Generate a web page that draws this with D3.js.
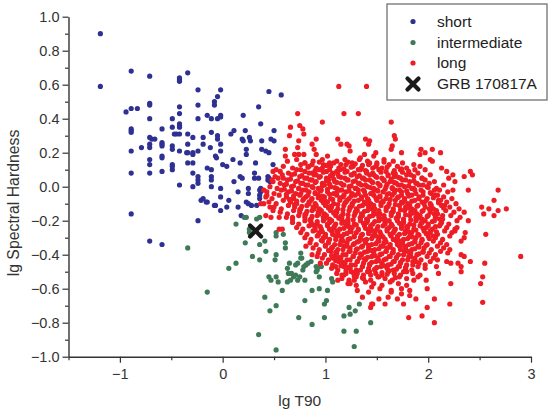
<!DOCTYPE html>
<html><head><meta charset="utf-8">
<script src="https://cdn.jsdelivr.net/npm/d3@7"></script>
<style>
html,body{margin:0;padding:0;background:#fff;}
svg{display:block;font-family:"Liberation Sans",Arial,sans-serif;}
</style></head>
<body><svg id="chart" width="549" height="415"></svg>
<script>
const xTicks = [-1, 0, 1, 2, 3];
const xMinorTicks = [-1.5, -0.5, 0.5, 1.5, 2.5];
const yTicks = [-1.0, -0.8, -0.6, -0.4, -0.2, 0.0, 0.2, 0.4, 0.6, 0.8, 1.0];
const yMinorTicks = [-0.9, -0.7, -0.5, -0.3, -0.1, 0.1, 0.3, 0.5, 0.7, 0.9];
const legendLabels = ["short", "intermediate", "long", "GRB 170817A"];
const grb = [[0.32, -0.26]];

const shortPts = [[-1.19,0.90],[-1.19,0.59],[-0.89,0.68],[-0.71,0.65],[-0.42,0.64],[-0.42,0.63],[-0.42,0.62],[-0.34,0.67],[-0.24,0.57],[-0.94,0.44],[-0.89,0.46],[-0.83,0.46],[-0.71,0.49],[-0.71,0.48],[-0.71,0.40],[-0.42,0.47],[-0.42,0.43],[-0.49,0.40],[-0.24,0.48],[-0.24,0.40],[-0.89,0.34],[-0.89,0.33],[-0.89,0.32],[-0.59,0.34],[-0.49,0.35],[-0.42,0.37],[-0.42,0.36],[-0.42,0.35],[-0.47,0.31],[-0.45,0.31],[-0.42,0.31],[-0.34,0.31],[-0.29,0.29],[-0.71,0.29],[-0.69,0.28],[-0.66,0.28],[-0.89,0.21],[-0.79,0.23],[-0.71,0.25],[-0.71,0.23],[-0.59,0.26],[-0.59,0.25],[-0.59,0.24],[-0.49,0.24],[-0.49,0.22],[-0.42,0.21],[-0.34,0.25],[-0.34,0.20],[-0.29,0.20],[-0.29,0.19],[-0.24,0.21],[-0.71,0.16],[-0.59,0.18],[-0.59,0.17],[-0.71,0.13],[-0.49,0.13],[-0.49,0.12],[-0.49,0.10],[-0.34,0.14],[-0.29,0.14],[-0.59,0.09],[-0.89,0.08],[-0.71,0.08],[-0.29,0.08],[-0.24,0.06],[-0.24,0.04],[-0.24,0.02],[-0.42,0.01],[-0.29,0.00],[-0.89,-0.16],[-0.71,-0.32],[-0.59,-0.34],[-0.24,-0.20],
[-0.02,0.57],[-0.05,0.53],[-0.08,0.50],[-0.08,0.48],[0.45,0.56],[0.57,0.54],[0.35,0.47],[0.20,0.42],[-0.15,0.42],[-0.11,0.40],[-0.05,0.40],[-0.02,0.42],[-0.02,0.41],[0.37,0.37],[-0.11,0.32],[0.08,0.31],[0.11,0.33],[0.22,0.33],[0.50,0.33],[-0.19,0.29],[-0.05,0.30],[-0.05,0.28],[0.19,0.28],[0.20,0.27],[0.26,0.29],[0.27,0.27],[0.38,0.27],[0.47,0.28],[0.50,0.27],[-0.19,0.25],[-0.02,0.25],[-0.35,0.20],[-0.12,0.23],[-0.02,0.21],[-0.07,0.18],[-0.06,0.17],[0.10,0.16],[0.23,0.22],[0.23,0.19],[0.38,0.22],[0.42,0.21],[0.45,0.20],[0.32,0.14],[0.17,0.14],[0.00,0.13],[0.04,0.12],[-0.15,0.11],[-0.11,0.10],[-0.11,0.06],[-0.11,0.04],[0.11,0.03],[0.17,0.06],[0.19,0.05],[0.31,0.08],[0.31,0.05],[0.35,0.05],[-0.11,0.00],[-0.02,-0.01],[0.15,-0.03],[0.25,-0.01],[0.25,-0.04],[0.36,-0.02],[0.36,-0.05],[0.36,-0.07],[0.45,0.05],[0.46,0.03],[-0.19,-0.07],[-0.15,-0.09],[-0.02,-0.06],[-0.07,-0.11],[-0.02,-0.14],[0.04,-0.12],[0.06,-0.08],[0.15,-0.12],[0.23,-0.09],[0.25,-0.10],[0.28,-0.11],[0.33,-0.11],[0.49,0.13],[0.44,0.06],[0.44,0.04],[0.37,-0.01],[0.37,-0.03],[0.18,-0.17],[-0.21,-0.08],[-0.16,-0.09],[-0.08,-0.11]];

const intermediatePts = [[0.21,-0.18],[0.23,-0.18],[0.33,-0.19],[0.36,-0.18],[0.13,-0.22],[0.26,-0.25],[0.26,-0.27],[0.22,-0.33],[0.36,-0.34],[0.41,-0.32],[0.42,-0.38],[0.29,-0.41],[0.36,-0.43],[-0.34,-0.36],[0.06,-0.48],[0.13,-0.45],[0.52,-0.27],[0.52,-0.29],[0.59,-0.28],[0.61,-0.33],[0.61,-0.36],[0.52,-0.40],[0.51,-0.43],[-0.15,-0.62],[0.45,-0.53],[0.52,-0.53],[0.41,-0.65],[0.52,-0.70],[0.46,-0.73],[0.35,-0.87],[0.52,-0.96],[0.58,-0.61],[0.63,-0.48],[0.65,-0.45],[0.71,-0.46],[0.73,-0.45],[0.63,-0.56],[0.67,-0.51],[0.69,-0.53],[0.71,-0.52],[0.73,-0.55],[0.80,-0.55],[0.76,-0.39],[0.76,-0.42],[0.78,-0.49],[0.79,-0.47],[0.81,-0.46],[0.83,-0.45],[0.86,-0.44],[0.91,-0.47],[0.92,-0.49],[0.94,-0.47],[0.96,-0.47],[0.91,-0.50],[0.94,-0.53],[0.87,-0.61],[0.94,-0.60],[0.80,-0.67],[0.74,-0.77],[0.87,-0.81],[0.99,-0.69],[1.01,-0.67],[0.99,-0.77],[1.06,-0.54],[1.07,-0.56],[1.02,-0.61],[1.23,-0.71],[1.24,-0.75],[1.29,-0.73],[1.33,-0.69],[1.18,-0.76],[1.18,-0.85],[1.30,-0.85],[1.28,-0.94],[1.44,-0.80],[0.77,-0.42],[0.75,-0.53],[0.66,-0.55],[0.64,-0.51],[0.47,-0.55],[0.54,-0.56]];

const longDense = [
[0.63,0.15],[0.72,0.16],[0.80,0.14],[0.88,0.15],[0.97,0.16],[1.04,0.14],[1.11,0.15],[1.19,0.16],[1.26,0.14],[1.33,0.16],[1.41,0.15],[1.50,0.14],[1.57,0.16],[1.66,0.15],[1.75,0.14],
[0.59,0.12],[0.68,0.11],[0.76,0.13],[0.84,0.12],[0.91,0.11],[0.98,0.13],[1.05,0.12],[1.13,0.11],[1.20,0.13],[1.27,0.12],[1.35,0.11],[1.42,0.13],[1.49,0.12],[1.55,0.11],[1.62,0.13],[1.70,0.12],[1.79,0.11],[1.86,0.13],
[0.56,0.09],[0.64,0.08],[0.72,0.10],[0.80,0.09],[0.87,0.08],[0.94,0.10],[1.01,0.09],[1.07,0.08],[1.14,0.10],[1.21,0.09],[1.28,0.08],[1.34,0.10],[1.40,0.09],[1.46,0.08],[1.52,0.10],[1.59,0.09],[1.66,0.08],[1.73,0.10],[1.81,0.09],[1.90,0.08],[1.97,0.10],
[0.51,0.06],[0.59,0.05],[0.67,0.07],[0.75,0.06],[0.82,0.05],[0.89,0.07],[0.95,0.06],[1.01,0.05],[1.07,0.07],[1.13,0.06],[1.19,0.05],[1.25,0.07],[1.31,0.06],[1.37,0.05],[1.43,0.07],[1.49,0.06],[1.55,0.05],[1.61,0.07],[1.67,0.06],[1.73,0.05],[1.79,0.07],[1.86,0.06],[1.94,0.05],[2.02,0.07],
[0.49,0.03],[0.56,0.02],[0.63,0.04],[0.71,0.03],[0.78,0.02],[0.85,0.04],[0.91,0.03],[0.97,0.02],[1.03,0.04],[1.09,0.03],[1.15,0.02],[1.21,0.04],[1.27,0.03],[1.33,0.02],[1.39,0.04],[1.45,0.03],[1.51,0.02],[1.57,0.04],[1.63,0.03],[1.69,0.02],[1.75,0.04],[1.82,0.03],[1.89,0.02],[1.97,0.04],[2.06,0.03],
[0.46,0.00],[0.53,-0.01],[0.60,0.01],[0.67,0.00],[0.74,-0.01],[0.81,0.01],[0.87,0.00],[0.93,-0.01],[0.99,0.01],[1.05,0.00],[1.11,-0.01],[1.17,0.01],[1.23,0.00],[1.29,-0.01],[1.35,0.01],[1.41,0.00],[1.47,-0.01],[1.53,0.01],[1.59,0.00],[1.65,-0.01],[1.71,0.01],[1.77,0.00],[1.84,-0.01],[1.91,0.01],[1.99,0.00],[2.08,-0.01],[2.15,0.01],
[0.43,-0.03],[0.50,-0.04],[0.57,-0.02],[0.64,-0.03],[0.71,-0.04],[0.78,-0.02],[0.84,-0.03],[0.90,-0.04],[0.96,-0.02],[1.02,-0.03],[1.08,-0.04],[1.14,-0.02],[1.20,-0.03],[1.26,-0.04],[1.32,-0.02],[1.38,-0.03],[1.44,-0.04],[1.50,-0.02],[1.56,-0.03],[1.62,-0.04],[1.68,-0.02],[1.74,-0.03],[1.80,-0.04],[1.87,-0.02],[1.95,-0.03],[2.03,-0.04],[2.11,-0.02],[2.19,-0.03],
[0.42,-0.06],[0.48,-0.07],[0.55,-0.05],[0.62,-0.06],[0.69,-0.07],[0.75,-0.05],[0.81,-0.06],[0.87,-0.07],[0.93,-0.05],[0.99,-0.06],[1.05,-0.07],[1.11,-0.05],[1.17,-0.06],[1.23,-0.07],[1.29,-0.05],[1.35,-0.06],[1.41,-0.07],[1.47,-0.05],[1.53,-0.06],[1.59,-0.07],[1.65,-0.05],[1.71,-0.06],[1.77,-0.07],[1.84,-0.05],[1.91,-0.06],[1.99,-0.07],[2.07,-0.05],[2.15,-0.06],[2.23,-0.07],
[0.45,-0.09],[0.52,-0.10],[0.59,-0.08],[0.66,-0.09],[0.72,-0.10],[0.78,-0.08],[0.84,-0.09],[0.90,-0.10],[0.96,-0.08],[1.02,-0.09],[1.08,-0.10],[1.14,-0.08],[1.20,-0.09],[1.26,-0.10],[1.32,-0.08],[1.38,-0.09],[1.44,-0.10],[1.50,-0.08],[1.56,-0.09],[1.62,-0.10],[1.68,-0.08],[1.74,-0.09],[1.80,-0.10],[1.87,-0.08],[1.94,-0.09],[2.02,-0.10],[2.10,-0.08],[2.18,-0.09],[2.27,-0.10],
[0.50,-0.12],[0.57,-0.13],[0.64,-0.11],[0.70,-0.12],[0.76,-0.13],[0.82,-0.11],[0.88,-0.12],[0.94,-0.13],[1.00,-0.11],[1.06,-0.12],[1.12,-0.13],[1.18,-0.11],[1.24,-0.12],[1.30,-0.13],[1.36,-0.11],[1.42,-0.12],[1.48,-0.13],[1.54,-0.11],[1.60,-0.12],[1.66,-0.13],[1.72,-0.11],[1.78,-0.12],[1.84,-0.13],[1.90,-0.11],[1.97,-0.12],[2.05,-0.13],[2.13,-0.11],[2.21,-0.12],[2.30,-0.13],
[0.56,-0.15],[0.63,-0.16],[0.69,-0.14],[0.75,-0.15],[0.81,-0.16],[0.87,-0.14],[0.93,-0.15],[0.99,-0.16],[1.05,-0.14],[1.11,-0.15],[1.17,-0.16],[1.23,-0.14],[1.29,-0.15],[1.35,-0.16],[1.41,-0.14],[1.47,-0.15],[1.53,-0.16],[1.59,-0.14],[1.65,-0.15],[1.71,-0.16],[1.77,-0.14],[1.83,-0.15],[1.89,-0.16],[1.95,-0.14],[2.02,-0.15],[2.09,-0.16],[2.17,-0.14],[2.25,-0.15],
[0.62,-0.18],[0.68,-0.19],[0.74,-0.17],[0.80,-0.18],[0.86,-0.19],[0.92,-0.17],[0.98,-0.18],[1.04,-0.19],[1.10,-0.17],[1.16,-0.18],[1.22,-0.19],[1.28,-0.17],[1.34,-0.18],[1.40,-0.19],[1.46,-0.17],[1.52,-0.18],[1.58,-0.19],[1.64,-0.17],[1.70,-0.18],[1.76,-0.19],[1.82,-0.17],[1.88,-0.18],[1.94,-0.19],[2.00,-0.17],[2.07,-0.18],[2.14,-0.19],[2.22,-0.17],[2.31,-0.18],
[0.68,-0.21],[0.74,-0.22],[0.80,-0.20],[0.86,-0.21],[0.92,-0.22],[0.98,-0.20],[1.04,-0.21],[1.10,-0.22],[1.16,-0.20],[1.22,-0.21],[1.28,-0.22],[1.34,-0.20],[1.40,-0.21],[1.46,-0.22],[1.52,-0.20],[1.58,-0.21],[1.64,-0.22],[1.70,-0.20],[1.76,-0.21],[1.82,-0.22],[1.88,-0.20],[1.94,-0.21],[2.00,-0.22],[2.06,-0.20],[2.13,-0.21],[2.20,-0.22],[2.28,-0.20],
[0.72,-0.24],[0.78,-0.25],[0.84,-0.23],[0.90,-0.24],[0.96,-0.25],[1.02,-0.23],[1.08,-0.24],[1.14,-0.25],[1.20,-0.23],[1.26,-0.24],[1.32,-0.25],[1.38,-0.23],[1.44,-0.24],[1.50,-0.25],[1.56,-0.23],[1.62,-0.24],[1.68,-0.25],[1.74,-0.23],[1.80,-0.24],[1.86,-0.25],[1.92,-0.23],[1.98,-0.24],[2.04,-0.25],[2.11,-0.23],[2.18,-0.24],[2.26,-0.25],
[0.76,-0.27],[0.82,-0.28],[0.88,-0.26],[0.94,-0.27],[1.00,-0.28],[1.06,-0.26],[1.12,-0.27],[1.18,-0.28],[1.24,-0.26],[1.30,-0.27],[1.36,-0.28],[1.42,-0.26],[1.48,-0.27],[1.54,-0.28],[1.60,-0.26],[1.66,-0.27],[1.72,-0.28],[1.78,-0.26],[1.84,-0.27],[1.90,-0.28],[1.96,-0.26],[2.02,-0.27],[2.09,-0.28],[2.16,-0.26],[2.23,-0.27],
[0.80,-0.30],[0.86,-0.31],[0.92,-0.29],[0.98,-0.30],[1.04,-0.31],[1.10,-0.29],[1.16,-0.30],[1.22,-0.31],[1.28,-0.29],[1.34,-0.30],[1.40,-0.31],[1.46,-0.29],[1.52,-0.30],[1.58,-0.31],[1.64,-0.29],[1.70,-0.30],[1.76,-0.31],[1.82,-0.29],[1.88,-0.30],[1.94,-0.31],[2.00,-0.29],[2.07,-0.30],[2.14,-0.31],[2.21,-0.29],
[0.85,-0.33],[0.91,-0.34],[0.97,-0.32],[1.03,-0.33],[1.09,-0.34],[1.15,-0.32],[1.21,-0.33],[1.27,-0.34],[1.33,-0.32],[1.39,-0.33],[1.45,-0.34],[1.51,-0.32],[1.57,-0.33],[1.63,-0.34],[1.69,-0.32],[1.75,-0.33],[1.81,-0.34],[1.87,-0.32],[1.93,-0.33],[1.99,-0.34],[2.05,-0.32],[2.12,-0.33],[2.18,-0.34],
[0.88,-0.36],[0.94,-0.37],[1.00,-0.35],[1.06,-0.36],[1.12,-0.37],[1.18,-0.35],[1.24,-0.36],[1.30,-0.37],[1.36,-0.35],[1.42,-0.36],[1.48,-0.37],[1.54,-0.35],[1.60,-0.36],[1.66,-0.37],[1.72,-0.35],[1.78,-0.36],[1.84,-0.37],[1.90,-0.35],[1.96,-0.36],[2.03,-0.37],[2.09,-0.35],[2.15,-0.36],
[0.93,-0.39],[0.99,-0.40],[1.05,-0.38],[1.11,-0.39],[1.17,-0.40],[1.23,-0.38],[1.29,-0.39],[1.35,-0.40],[1.41,-0.38],[1.47,-0.39],[1.53,-0.40],[1.59,-0.38],[1.65,-0.39],[1.71,-0.40],[1.77,-0.38],[1.83,-0.39],[1.89,-0.40],[1.95,-0.38],[2.01,-0.39],[2.07,-0.40],[2.12,-0.38],
[0.97,-0.42],[1.03,-0.43],[1.09,-0.41],[1.15,-0.42],[1.21,-0.43],[1.27,-0.41],[1.33,-0.42],[1.39,-0.43],[1.45,-0.41],[1.51,-0.42],[1.57,-0.43],[1.63,-0.41],[1.69,-0.42],[1.75,-0.43],[1.81,-0.41],[1.87,-0.42],[1.93,-0.43],[1.99,-0.41],[2.05,-0.42],[2.09,-0.43],
[1.01,-0.45],[1.07,-0.46],[1.13,-0.44],[1.19,-0.45],[1.25,-0.46],[1.31,-0.44],[1.37,-0.45],[1.43,-0.46],[1.49,-0.44],[1.55,-0.45],[1.61,-0.46],[1.67,-0.44],[1.73,-0.45],[1.79,-0.46],[1.85,-0.44],[1.91,-0.45],[1.97,-0.46],[2.02,-0.44],
[1.06,-0.48],[1.12,-0.49],[1.18,-0.47],[1.24,-0.48],[1.30,-0.49],[1.36,-0.47],[1.42,-0.48],[1.48,-0.49],[1.54,-0.47],[1.60,-0.48],[1.66,-0.49],[1.72,-0.47],[1.78,-0.48],[1.84,-0.49],[1.90,-0.47],[1.97,-0.48],
[1.11,-0.51],[1.18,-0.52],[1.25,-0.50],[1.31,-0.51],[1.37,-0.52],[1.43,-0.50],[1.49,-0.51],[1.55,-0.52],[1.61,-0.50],[1.67,-0.51],[1.73,-0.52],[1.79,-0.50],[1.85,-0.51],[1.92,-0.52],
[1.16,-0.54],[1.23,-0.55],[1.30,-0.53],[1.37,-0.54],[1.44,-0.55],[1.51,-0.53],[1.58,-0.54],[1.65,-0.55],[1.72,-0.53],[1.79,-0.54],[1.86,-0.55],
[1.22,-0.57],[1.30,-0.58],[1.39,-0.56],[1.47,-0.57],[1.55,-0.58],[1.63,-0.56],[1.71,-0.57],[1.79,-0.58],
[1.31,-0.61],[1.42,-0.62],[1.53,-0.60],[1.64,-0.61],[1.74,-0.63]];

const longCore = [
[0.80,0.14],[0.87,0.13],[0.94,0.145],[1.01,0.125],[1.08,0.14],[1.15,0.13],[1.22,0.145],[1.29,0.135],[1.36,0.125],[1.43,0.14],[1.50,0.13],[1.57,0.145],
[0.76,0.10],[0.83,0.115],[0.90,0.095],[0.97,0.11],[1.04,0.10],[1.11,0.09],[1.18,0.105],[1.25,0.115],[1.32,0.10],[1.39,0.095],[1.46,0.11],[1.53,0.10],[1.60,0.115],[1.67,0.095],[1.74,0.105],
[0.70,0.075],[0.77,0.065],[0.84,0.08],[0.91,0.07],[0.98,0.085],[1.05,0.065],[1.12,0.075],[1.19,0.085],[1.26,0.07],[1.33,0.065],[1.40,0.08],[1.47,0.07],[1.54,0.085],[1.61,0.065],[1.68,0.075],[1.75,0.085],[1.83,0.07],
[0.66,0.045],[0.73,0.035],[0.80,0.05],[0.87,0.04],[0.94,0.055],[1.01,0.035],[1.08,0.045],[1.15,0.055],[1.22,0.04],[1.29,0.035],[1.36,0.05],[1.43,0.04],[1.50,0.055],[1.57,0.035],[1.64,0.045],[1.71,0.055],[1.78,0.04],[1.86,0.035],[1.94,0.05],
[0.62,0.015],[0.69,0.005],[0.76,0.02],[0.83,0.01],[0.90,0.025],[0.97,0.005],[1.04,0.015],[1.11,0.025],[1.18,0.01],[1.25,0.005],[1.32,0.02],[1.39,0.01],[1.46,0.025],[1.53,0.005],[1.60,0.015],[1.67,0.025],[1.74,0.01],[1.81,0.005],[1.88,0.02],[1.95,0.01],[2.01,0.02],
[0.60,-0.015],[0.67,-0.025],[0.74,-0.01],[0.81,-0.02],[0.88,-0.005],[0.95,-0.025],[1.02,-0.015],[1.09,-0.005],[1.16,-0.02],[1.23,-0.025],[1.30,-0.01],[1.37,-0.02],[1.44,-0.005],[1.51,-0.025],[1.58,-0.015],[1.65,-0.005],[1.72,-0.02],[1.79,-0.025],[1.86,-0.01],[1.93,-0.02],[2.00,-0.005],[2.06,-0.02],
[0.62,-0.045],[0.69,-0.055],[0.76,-0.04],[0.83,-0.05],[0.90,-0.035],[0.97,-0.055],[1.04,-0.045],[1.11,-0.035],[1.18,-0.05],[1.25,-0.055],[1.32,-0.04],[1.39,-0.05],[1.46,-0.035],[1.53,-0.055],[1.60,-0.045],[1.67,-0.035],[1.74,-0.05],[1.81,-0.055],[1.88,-0.04],[1.95,-0.05],[2.02,-0.035],[2.09,-0.05],
[0.65,-0.075],[0.72,-0.085],[0.79,-0.07],[0.86,-0.08],[0.93,-0.065],[1.00,-0.085],[1.07,-0.075],[1.14,-0.065],[1.21,-0.08],[1.28,-0.085],[1.35,-0.07],[1.42,-0.08],[1.49,-0.065],[1.56,-0.085],[1.63,-0.075],[1.70,-0.065],[1.77,-0.08],[1.84,-0.085],[1.91,-0.07],[1.98,-0.08],[2.05,-0.065],[2.12,-0.08],
[0.70,-0.105],[0.77,-0.115],[0.84,-0.10],[0.91,-0.11],[0.98,-0.095],[1.05,-0.115],[1.12,-0.105],[1.19,-0.095],[1.26,-0.11],[1.33,-0.115],[1.40,-0.10],[1.47,-0.11],[1.54,-0.095],[1.61,-0.115],[1.68,-0.105],[1.75,-0.095],[1.82,-0.11],[1.89,-0.115],[1.96,-0.10],[2.03,-0.11],[2.10,-0.095],[2.16,-0.11],
[0.75,-0.135],[0.82,-0.145],[0.89,-0.13],[0.96,-0.14],[1.03,-0.125],[1.10,-0.145],[1.17,-0.135],[1.24,-0.125],[1.31,-0.14],[1.38,-0.145],[1.45,-0.13],[1.52,-0.14],[1.59,-0.125],[1.66,-0.145],[1.73,-0.135],[1.80,-0.125],[1.87,-0.14],[1.94,-0.145],[2.01,-0.13],[2.08,-0.14],[2.15,-0.125],
[0.80,-0.165],[0.87,-0.175],[0.94,-0.16],[1.01,-0.17],[1.08,-0.155],[1.15,-0.175],[1.22,-0.165],[1.29,-0.155],[1.36,-0.17],[1.43,-0.175],[1.50,-0.16],[1.57,-0.17],[1.64,-0.155],[1.71,-0.175],[1.78,-0.165],[1.85,-0.155],[1.92,-0.17],[1.99,-0.175],[2.06,-0.16],[2.14,-0.17],
[0.85,-0.195],[0.92,-0.205],[0.99,-0.19],[1.06,-0.20],[1.13,-0.185],[1.20,-0.205],[1.27,-0.195],[1.34,-0.185],[1.41,-0.20],[1.48,-0.205],[1.55,-0.19],[1.62,-0.20],[1.69,-0.185],[1.76,-0.205],[1.83,-0.195],[1.90,-0.185],[1.97,-0.20],[2.04,-0.205],[2.11,-0.19],
[0.88,-0.225],[0.95,-0.235],[1.02,-0.22],[1.09,-0.23],[1.16,-0.215],[1.23,-0.235],[1.30,-0.225],[1.37,-0.215],[1.44,-0.23],[1.51,-0.235],[1.58,-0.22],[1.65,-0.23],[1.72,-0.215],[1.79,-0.235],[1.86,-0.225],[1.93,-0.215],[2.00,-0.23],[2.07,-0.235],[2.12,-0.22],
[0.90,-0.255],[0.97,-0.265],[1.04,-0.25],[1.11,-0.26],[1.18,-0.245],[1.25,-0.265],[1.32,-0.255],[1.39,-0.245],[1.46,-0.26],[1.53,-0.265],[1.60,-0.25],[1.67,-0.26],[1.74,-0.245],[1.81,-0.265],[1.88,-0.255],[1.95,-0.245],[2.02,-0.26],[2.08,-0.265],
[0.93,-0.285],[1.00,-0.295],[1.07,-0.28],[1.14,-0.29],[1.21,-0.275],[1.28,-0.295],[1.35,-0.285],[1.42,-0.275],[1.49,-0.29],[1.56,-0.295],[1.63,-0.28],[1.70,-0.29],[1.77,-0.275],[1.84,-0.295],[1.91,-0.285],[1.98,-0.275],[2.05,-0.29],
[0.96,-0.315],[1.03,-0.325],[1.10,-0.31],[1.17,-0.32],[1.24,-0.305],[1.31,-0.325],[1.38,-0.315],[1.45,-0.305],[1.52,-0.32],[1.59,-0.325],[1.66,-0.31],[1.73,-0.32],[1.80,-0.305],[1.87,-0.325],[1.94,-0.315],[2.01,-0.305],
[1.00,-0.345],[1.07,-0.355],[1.14,-0.34],[1.21,-0.35],[1.28,-0.335],[1.35,-0.355],[1.42,-0.345],[1.49,-0.335],[1.56,-0.35],[1.63,-0.355],[1.70,-0.34],[1.77,-0.35],[1.84,-0.335],[1.91,-0.355],[1.98,-0.345],
[1.03,-0.375],[1.10,-0.385],[1.17,-0.37],[1.24,-0.38],[1.31,-0.365],[1.38,-0.385],[1.45,-0.375],[1.52,-0.365],[1.59,-0.38],[1.66,-0.385],[1.73,-0.37],[1.80,-0.38],[1.87,-0.365],[1.95,-0.385],
[1.06,-0.405],[1.13,-0.415],[1.20,-0.40],[1.27,-0.41],[1.34,-0.395],[1.41,-0.415],[1.48,-0.405],[1.55,-0.395],[1.62,-0.41],[1.69,-0.415],[1.76,-0.40],[1.83,-0.41],[1.91,-0.395],
[1.10,-0.435],[1.17,-0.445],[1.24,-0.43],[1.31,-0.44],[1.38,-0.425],[1.45,-0.445],[1.52,-0.435],[1.59,-0.425],[1.66,-0.44],[1.73,-0.445],[1.80,-0.43],[1.88,-0.44],
[1.15,-0.465],[1.22,-0.475],[1.29,-0.46],[1.36,-0.47],[1.43,-0.455],[1.50,-0.475],[1.57,-0.465],[1.64,-0.455],[1.71,-0.47],[1.78,-0.475],[1.85,-0.46],
[1.20,-0.495],[1.27,-0.505],[1.34,-0.49],[1.41,-0.50],[1.48,-0.485],[1.55,-0.505],[1.62,-0.495],[1.69,-0.485],[1.76,-0.50],
[1.28,-0.525],[1.36,-0.535],[1.44,-0.52],[1.52,-0.53],[1.60,-0.515],[1.68,-0.535]];

const longSparse = [[1.13,0.59],[1.40,0.59],[0.73,0.43],[1.18,0.43],[1.32,0.43],[0.97,0.38],[1.64,0.38],[0.66,0.35],[0.75,0.36],[0.78,0.34],[0.79,0.31],[0.65,0.30],[0.74,0.27],[0.87,0.25],[0.91,0.28],[1.12,0.28],[1.15,0.25],[1.21,0.25],[1.23,0.24],[1.24,0.21],[1.39,0.28],[1.43,0.27],[1.42,0.25],[1.67,0.30],[1.68,0.28],[1.65,0.24],[1.74,0.20],[0.61,0.22],[0.73,0.23],[0.74,0.19],[0.89,0.22],[0.91,0.19],[1.49,0.20],[1.47,0.18],[1.38,0.19],[1.34,0.17],[1.02,0.18],[0.61,0.18],[0.70,0.19],[0.79,0.19],[0.49,0.09],[0.52,0.10],[0.58,0.07],[0.48,0.04],[0.54,0.05],
[1.64,0.22],[1.93,0.22],[1.92,0.19],[1.97,0.20],[2.04,0.22],[2.12,0.20],[2.02,0.16],[2.04,0.15],[1.92,0.12],[1.87,0.10],[2.13,0.11],[2.18,0.09],[2.24,0.07],[2.20,0.05],[2.26,0.03],[2.35,0.06],[2.41,0.09],[2.43,0.07],[2.24,-0.02],[2.39,-0.02],[2.68,-0.02],[2.64,-0.08],[2.52,-0.12],[2.59,-0.13],[2.68,-0.14],[2.76,-0.13],[2.54,-0.16],[2.64,-0.17],[2.35,-0.15],[2.39,-0.20],[2.90,-0.41],[2.56,-0.28],[2.36,-0.27],[2.35,-0.30],[2.32,-0.32],[2.28,-0.24],[2.26,-0.26],[2.21,-0.37],[2.19,-0.39],[2.35,-0.41],[2.32,-0.40],[2.41,-0.44],[2.55,-0.45],[2.29,-0.45],[2.32,-0.47],[2.32,-0.50],[2.22,-0.45],[2.18,-0.44],[2.53,-0.53],[2.51,-0.57],[2.22,-0.57],[1.98,-0.55],[1.99,-0.60],[2.06,-0.66],[2.21,-0.69],[2.53,-0.68],[1.99,-0.71],[1.76,-0.69],[1.58,-0.69],[1.82,-0.61],[1.82,-0.64],[1.74,-0.60],[1.64,-0.62],[1.61,-0.65],[2.10,-0.51],[2.08,-0.47],[1.90,-0.53],[1.44,-0.71],[1.46,-0.69],[1.81,-0.77],[1.94,-0.76],[2.06,-0.80],
[0.42,-0.17],[0.47,-0.18],[0.55,-0.18],[0.55,-0.25],[0.58,-0.25],[0.68,-0.18],[0.81,-0.35],[0.87,-0.40],[0.92,-0.41],[0.95,-0.45],[1.07,-0.42],[1.10,-0.47],[1.12,-0.55],[1.16,-0.52],[1.20,-0.51],[1.24,-0.57],[1.28,-0.55],[1.45,-0.59],[1.45,-0.69],[1.36,-0.65],[1.52,-0.66],[1.70,-0.66],[1.88,-0.66],[0.40,-0.02],[0.43,-0.05],[0.40,-0.10],[0.46,-0.12],[0.49,-0.14],[0.37,-0.10]];

const series = [
  {name: legendLabels[0], color: "#2e3192", pts: shortPts},
  {name: legendLabels[1], color: "#3f7a58", pts: intermediatePts},
  {name: legendLabels[2], color: "#ee1c25", pts: longDense.concat(longCore, longSparse)}
];

const svg = d3.select("#chart");
const x = d3.scaleLinear().domain([-1.5, 3]).range([68.5, 531]);
const y = d3.scaleLinear().domain([-1, 1]).range([356.7, 16.7]);
const axisColor = "#333";
const font = "'Liberation Sans', Arial, sans-serif";

series.forEach(s => {
  svg.append("g").selectAll("circle").data(s.pts).join("circle")
    .attr("cx", d => x(d[0])).attr("cy", d => y(d[1]))
    .attr("r", 2.6).attr("fill", s.color);
});

const xPath = (cx, cy, h) => `M${cx-h},${cy-h}L${cx+h},${cy+h}M${cx-h},${cy+h}L${cx+h},${cy-h}`;
svg.append("g").selectAll("path").data(grb).join("path")
  .attr("d", d => xPath(x(d[0]), y(d[1]), 5.5))
  .attr("stroke", "#1a1a1a").attr("stroke-width", 4.2).attr("stroke-linecap", "round").attr("fill", "none");

function styleAxis(g) {
  g.select(".domain").attr("stroke", axisColor).attr("stroke-width", 1.4);
  g.selectAll(".tick line").attr("stroke", axisColor).attr("stroke-width", 1.2);
  g.selectAll(".tick text").attr("fill", "#333").attr("font-size", 14.5).attr("font-family", font);
}
function minorStyle(g) {
  g.select(".domain").remove();
  g.selectAll(".tick line").attr("stroke", axisColor).attr("stroke-width", 1.2);
}
svg.append("g").attr("transform", `translate(0,${y(-1)})`)
  .call(d3.axisBottom(x).tickValues(xMinorTicks).tickSize(3.5).tickFormat(""))
  .call(minorStyle);
svg.append("g").attr("transform", `translate(0,${y(-1)})`)
  .call(d3.axisBottom(x).tickValues(xTicks).tickSize(6).tickSizeOuter(0).tickPadding(6).tickFormat(d3.format("d")))
  .call(styleAxis);
svg.append("g").attr("transform", `translate(${x(-1.5)},0)`)
  .call(d3.axisLeft(y).tickValues(yMinorTicks).tickSize(3.5).tickFormat(""))
  .call(minorStyle);
svg.append("g").attr("transform", `translate(${x(-1.5)},0)`)
  .call(d3.axisLeft(y).tickValues(yTicks).tickSize(6).tickSizeOuter(0).tickPadding(3).tickFormat(d3.format(".1f")))
  .call(styleAxis);

svg.append("text").attr("x", (x(-1.5) + x(3)) / 2).attr("y", 406)
  .attr("text-anchor", "middle").attr("font-size", 15.5).attr("fill", "#333").text("lg T90");
svg.append("text").attr("transform", `translate(19,203) rotate(-90)`)
  .attr("text-anchor", "middle").attr("font-size", 15.8).attr("fill", "#333").text("lg Spectral Hardness");

const lg = svg.append("g");
lg.append("rect").attr("x", 387).attr("y", 4).attr("width", 160).attr("height", 96)
  .attr("fill", "#fff").attr("stroke", "#666").attr("stroke-width", 1.2);
const legY = [21.5, 42.5, 63, 84];
series.forEach((s, i) => {
  lg.append("circle").attr("cx", 413).attr("cy", legY[i]).attr("r", 2.6).attr("fill", s.color);
  lg.append("text").attr("x", 437).attr("y", legY[i] + 5.3).attr("font-size", 15.5).attr("fill", "#222").text(s.name);
});
lg.append("path").attr("d", xPath(413, legY[3], 5.5)).attr("stroke", "#1a1a1a")
  .attr("stroke-width", 4.2).attr("stroke-linecap", "round").attr("fill", "none");
lg.append("text").attr("x", 437).attr("y", legY[3] + 5.3).attr("font-size", 15.5).attr("fill", "#222").text(legendLabels[3]);
</script></body></html>
